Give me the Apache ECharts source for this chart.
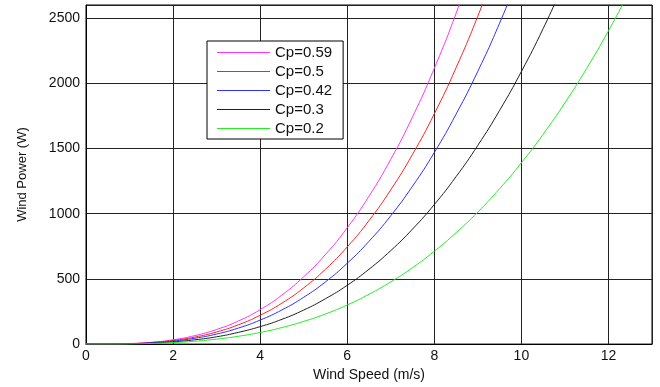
<!DOCTYPE html>
<html>
<head>
<meta charset="utf-8">
<script src="https://cdn.jsdelivr.net/npm/echarts@6/dist/echarts.min.js"></script>
<style>
  html, body {margin: 0; padding: 0; background: #fff;}
  #chart {width: 660px; height: 387px;}
</style>
</head>
<body>
<div id="chart"></div>
<script>
// wind speed (m/s), every 0.5
const speeds = [0, 0.5, 1, 1.5, 2, 2.5, 3, 3.5, 4, 4.5, 5, 5.5, 6, 6.5,
  7, 7.5, 8, 8.5, 9, 9.5, 10, 10.5, 11, 11.5, 12, 12.5];

// wind power (W)
const cp059 = [0, 0.5, 4, 14, 33, 65, 112, 177, 264, 376, 516, 687, 892, 1134,
  1417, 1742, 2115, 2536, 3011];
const cp05 = [0, 0.4, 3, 12, 28, 54, 93, 148, 221, 314, 431, 574, 745, 947,
  1183, 1455, 1766, 2119, 2515, 2958];
const cp042 = [0, 0.4, 3, 10, 23, 45, 77, 123, 184, 262, 359, 477, 620, 788,
  984, 1211, 1469, 1763, 2092, 2461, 2870];
const cp03 = [0, 0.3, 2, 7, 17, 33, 56, 90, 134, 190, 261, 348, 451, 574,
  717, 882, 1070, 1284, 1524, 1792, 2090, 2419, 2782];
const cp02 = [0, 0.2, 1, 5, 11, 22, 38, 60, 89, 127, 174, 231, 300, 382,
  477, 586, 712, 854, 1013, 1192, 1390, 1609, 1850, 2114, 2402, 2715];

const names = ['Cp=0.59', 'Cp=0.5', 'Cp=0.42', 'Cp=0.3', 'Cp=0.2'];
const colors = ['#ff33ff', '#ff2020', '#3030ff', '#222222', '#22ee22'];
const powers = [cp059, cp05, cp042, cp03, cp02];

const font = 'Liberation Sans, Arial, sans-serif';

const chart = echarts.init(document.getElementById('chart'));
chart.setOption({
  animation: false,
  textStyle: {fontFamily: font},
  grid: {
    left: 86, top: 5, right: 8, bottom: 40,
    show: true, borderColor: '#000', borderWidth: 1
  },
  legend: {
    data: names,
    orient: 'vertical',
    left: 207, top: 41,
    padding: [4, 11, 3, 10],
    itemGap: 4,
    itemWidth: 53,
    itemHeight: 1,
    icon: 'rect',
    backgroundColor: '#fff',
    borderColor: '#000',
    borderWidth: 1,
    borderRadius: 0,
    textStyle: {fontSize: 15, color: '#111', lineHeight: 15, fontFamily: font}
  },
  xAxis: {
    type: 'value',
    min: 0, max: 13, interval: 2,
    name: 'Wind Speed (m/s)',
    nameLocation: 'middle',
    nameGap: 23,
    nameTextStyle: {fontSize: 14, color: '#111'},
    axisLine: {lineStyle: {color: '#000'}},
    axisTick: {show: false},
    axisLabel: {fontSize: 14, color: '#111', margin: 5, showMaxLabel: false},
    splitLine: {show: true, lineStyle: {color: '#222', width: 1}}
  },
  yAxis: {
    type: 'value',
    min: 0, max: 2600, interval: 500,
    name: 'Wind Power (W)',
    nameLocation: 'middle',
    nameGap: 57,
    nameTextStyle: {fontSize: 13, color: '#111'},
    axisLine: {show: true, lineStyle: {color: '#000'}},
    axisTick: {show: false},
    axisLabel: {
      fontSize: 14, color: '#111', margin: 6, showMaxLabel: false,
      formatter: v => String(v)
    },
    splitLine: {show: true, lineStyle: {color: '#222', width: 1}}
  },
  series: powers.map((p, i) => ({
    name: names[i],
    type: 'line',
    smooth: true,
    showSymbol: false,
    symbol: 'none',
    clip: true,
    color: colors[i],
    lineStyle: {width: 1, color: colors[i]},
    data: p.map((v, j) => [speeds[j], v])
  }))
});
</script>
</body>
</html>
